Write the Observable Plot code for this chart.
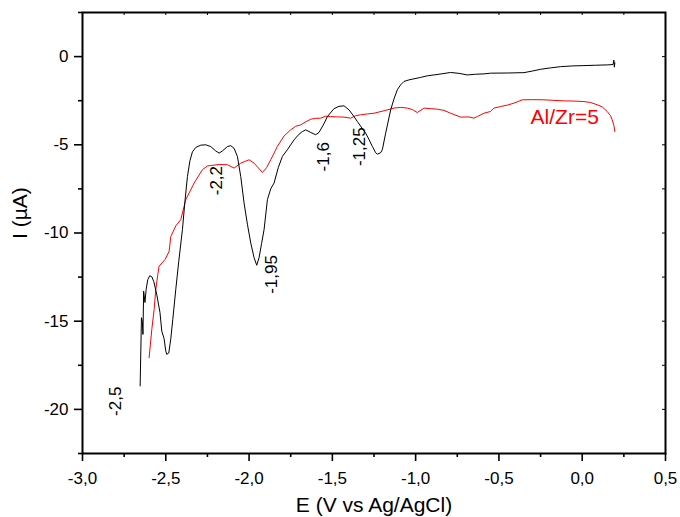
<!DOCTYPE html>
<html><head><meta charset="utf-8">
<script src="https://cdn.jsdelivr.net/npm/d3@7"></script>
<script src="https://cdn.jsdelivr.net/npm/@observablehq/plot@0.6"></script>
<style>body{margin:0;background:#fff;}</style>
</head><body><div id="chart"></div>
<script>
// Black curve (E in V vs Ag/AgCl, I in µA)
const blackE = [-2.654,-2.646,-2.641,-2.637,-2.633,-2.625,-2.618,-2.608,-2.596,-2.584,-2.572,-2.554,-2.535,-2.524,-2.51,-2.50,-2.494,-2.482,-2.47,-2.458,-2.44,-2.422,-2.40,-2.385,-2.37,-2.355,-2.34,-2.32,-2.29,-2.26,-2.23,-2.20,-2.18,-2.16,-2.13,-2.11,-2.09,-2.07,-2.05,-2.03,-2.01,-1.99,-1.97,-1.954,-1.94,-1.925,-1.91,-1.89,-1.87,-1.85,-1.825,-1.80,-1.77,-1.73,-1.70,-1.68,-1.66,-1.63,-1.60,-1.58,-1.55,-1.53,-1.49,-1.46,-1.43,-1.40,-1.37,-1.35,-1.30,-1.28,-1.26,-1.24,-1.23,-1.21,-1.20,-1.18,-1.15,-1.13,-1.11,-1.09,-1.07,-1.04,-1.01,-0.97,-0.93,-0.86,-0.79,-0.74,-0.69,-0.64,-0.59,-0.55,-0.45,-0.35,-0.30,-0.25,-0.19,-0.13,-0.06,0.01,0.08,0.15,0.185,0.19,0.193,0.196];
const blackI = [-18.67,-14.80,-15.0,-15.75,-13.3,-13.94,-13.2,-12.64,-12.42,-12.48,-12.75,-13.5,-14.5,-15.56,-16.0,-16.7,-16.88,-16.8,-16.0,-14.9,-13.2,-11.6,-9.8,-8.2,-6.8,-5.9,-5.4,-5.15,-5.02,-5.0,-5.1,-5.35,-5.47,-5.35,-5.1,-5.05,-5.2,-5.66,-6.8,-8.3,-9.5,-10.56,-11.4,-11.83,-11.4,-10.6,-9.81,-8.11,-7.5,-7.17,-6.3,-5.66,-5.28,-4.72,-4.4,-4.25,-4.15,-4.3,-4.43,-4.3,-3.8,-3.40,-2.95,-2.82,-2.79,-3.02,-3.4,-3.68,-4.34,-4.7,-5.09,-5.45,-5.53,-5.45,-5.28,-4.34,-3.02,-2.4,-1.88,-1.6,-1.41,-1.32,-1.26,-1.18,-1.09,-1.0,-0.90,-0.95,-1.04,-1.0,-0.98,-0.94,-0.93,-0.91,-0.82,-0.72,-0.64,-0.57,-0.53,-0.51,-0.49,-0.47,-0.45,-0.2,-0.6,-0.35];

// Red curve (Al/Zr=5)
const redE = [-2.60,-2.584,-2.57,-2.56,-2.548,-2.54,-2.504,-2.48,-2.47,-2.44,-2.41,-2.38,-2.33,-2.28,-2.25,-2.23,-2.18,-2.13,-2.09,-2.05,-2.00,-1.97,-1.945,-1.92,-1.895,-1.87,-1.83,-1.79,-1.75,-1.72,-1.69,-1.66,-1.63,-1.60,-1.57,-1.54,-1.51,-1.47,-1.43,-1.39,-1.36,-1.33,-1.29,-1.25,-1.19,-1.13,-1.09,-1.05,-1.02,-0.99,-0.95,-0.91,-0.87,-0.83,-0.79,-0.73,-0.68,-0.65,-0.63,-0.59,-0.55,-0.53,-0.49,-0.45,-0.41,-0.36,-0.30,-0.23,-0.17,-0.11,-0.05,0.01,0.05,0.09,0.12,0.15,0.17,0.18,0.19,0.196];
const redI = [-17.07,-15.47,-14.34,-13.2,-12.36,-11.88,-11.5,-11.04,-10.2,-9.6,-9.24,-8.11,-7.17,-6.41,-6.2,-6.17,-6.12,-6.13,-6.32,-6.04,-5.85,-6.04,-6.3,-6.57,-6.3,-5.85,-5.09,-4.5,-4.15,-3.95,-3.87,-3.7,-3.55,-3.5,-3.49,-3.38,-3.40,-3.42,-3.43,-3.49,-3.35,-3.30,-3.25,-3.21,-3.07,-2.92,-2.88,-2.92,-3.0,-3.17,-2.92,-2.95,-2.98,-3.05,-3.21,-3.43,-3.42,-3.49,-3.40,-3.21,-3.11,-2.92,-2.83,-2.75,-2.64,-2.45,-2.44,-2.45,-2.48,-2.51,-2.52,-2.55,-2.6,-2.73,-2.85,-3.11,-3.35,-3.58,-3.9,-4.25];

// Ticks
const xMajorTicks = [-3, -2.5, -2, -1.5, -1, -0.5, 0, 0.5];
const xMinorTicks = [-2.75, -2.25, -1.75, -1.25, -0.75, -0.25, 0.25];
const yMajorTicks = [-20, -15, -10, -5, 0];
const yMinorTicks = [-22.5, -17.5, -12.5, -7.5, -2.5, 2.5];

// Peak annotations
const peakLabels = ["-2,5", "-2,2", "-1,95", "-1,6", "-1,25"];
const peakE = [-2.80, -2.194, -1.864, -1.553, -1.336];
const peakI = [-19.54, -7.03, -12.35, -5.68, -5.11];

const seriesLabel = ["Al/Zr=5"];
const seriesLabelE = [-0.31];
const seriesLabelI = [-3.46];

const black = blackE.map((e, i) => ({E: e, I: blackI[i]}));
const red = redE.map((e, i) => ({E: e, I: redI[i]}));
const peaks = peakLabels.map((t, i) => ({t, E: peakE[i], I: peakI[i]}));
const sLab = seriesLabel.map((t, i) => ({t, E: seriesLabelE[i], I: seriesLabelI[i]}));

const fmtX = d => d.toFixed(1).replace(".", ",");
const fmtY = d => String(d);
const font = "'Liberation Sans', Arial, Helvetica, sans-serif";

const chart = Plot.plot({
  width: 680, height: 517,
  marginLeft: 82, marginRight: 15, marginTop: 12, marginBottom: 64,
  style: {fontFamily: font, fontSize: "17px", background: "white", color: "black"},
  x: {domain: [-3, 0.5], label: null},
  y: {domain: [-22.5, 2.5], label: null},
  marks: [
    Plot.axisX(xMajorTicks, {tickSize: 8, tickPadding: 10, tickFormat: fmtX, fontSize: 17, strokeWidth: 1.6, label: null}),
    Plot.axisX(xMinorTicks, {tickSize: 4, tickFormat: () => "", strokeWidth: 1.6, label: null}),
    Plot.axisY(yMajorTicks, {tickSize: 8, tickPadding: 6, tickFormat: fmtY, fontSize: 17, strokeWidth: 1.6, label: null}),
    Plot.axisY(yMinorTicks, {tickSize: 4, tickFormat: () => "", strokeWidth: 1.6, label: null}),
    Plot.tickX(xMajorTicks.concat(xMinorTicks), {x: d => d, insetBottom: 438, strokeWidth: 1}),
    Plot.tickY(yMajorTicks.concat(yMinorTicks), {y: d => d, insetLeft: 580, strokeWidth: 1}),
    Plot.frame({strokeWidth: 2}),
    Plot.line(red, {x: "E", y: "I", stroke: "#ff0000", strokeWidth: 1}),
    Plot.line(black, {x: "E", y: "I", stroke: "black", strokeWidth: 1}),
    Plot.text(peaks, {x: "E", y: "I", text: "t", rotate: -90, fontSize: 17, fill: "black"}),
    Plot.text(sLab, {x: "E", y: "I", text: "t", textAnchor: "start", fontSize: 21, fill: "#ff0000"}),
    Plot.text(["E (V vs Ag/AgCl)"], {frameAnchor: "bottom", dy: 52, lineAnchor: "middle", fontSize: 21}),
    Plot.text(["I (µA)"], {frameAnchor: "left", rotate: -90, dx: -62, dy: 6, lineAnchor: "middle", fontSize: 21})
  ]
});
document.getElementById("chart").appendChild(chart);
</script>
</body></html>
